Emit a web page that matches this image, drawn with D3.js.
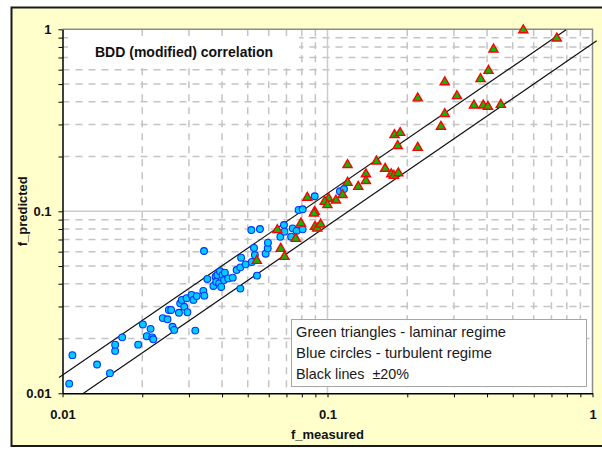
<!DOCTYPE html>
<html>
<head>
<meta charset="utf-8">
<script src="https://cdn.jsdelivr.net/npm/d3@7"></script>
<style>
  body { margin: 0; background: #ffffff; }
  text { font-family: "Liberation Sans", Arial, sans-serif; }
</style>
</head>
<body>
<script>
// laminar regime (green triangles)
const laminarMeasured = [0.548, 0.733, 0.423, 0.405, 0.378, 0.277, 0.308, 0.219, 0.357, 0.387,
  0.403, 0.451, 0.277, 0.268, 0.179, 0.188, 0.184, 0.219, 0.153, 0.119,
  0.165, 0.1396, 0.174, 0.178, 0.185, 0.1396, 0.119, 0.1306, 0.114, 0.1076,
  0.101, 0.0976, 0.0999, 0.0895, 0.0889, 0.0839, 0.0794, 0.0897, 0.0915, 0.0942,
  0.0647, 0.0759, 0.0666, 0.0688, 0.0541];
const laminarPredicted = [0.99, 0.892, 0.776, 0.592, 0.533, 0.513, 0.430, 0.418, 0.382, 0.382,
  0.376, 0.385, 0.343, 0.292, 0.263, 0.270, 0.229, 0.2236, 0.188, 0.180,
  0.1715, 0.160, 0.160, 0.157, 0.162, 0.147, 0.1436, 0.1365, 0.123, 0.1149,
  0.1173, 0.1129, 0.1083, 0.0995, 0.0975, 0.1188, 0.0859, 0.0823, 0.0806, 0.0848,
  0.0789, 0.0707, 0.0623, 0.0563, 0.0535];

// turbulent regime (blue circles)
const turbulentMeasured = [0.0106, 0.0109, 0.0135, 0.0151, 0.0158, 0.0158, 0.0168, 0.0193, 0.0201, 0.0208,
  0.0215, 0.0218, 0.0220, 0.0239, 0.0249, 0.0252, 0.0257, 0.0260, 0.0264, 0.0275,
  0.0278, 0.0282, 0.0288, 0.0294, 0.0296, 0.0307, 0.0312, 0.0321, 0.0317, 0.0340,
  0.0343, 0.0342, 0.0352, 0.0371, 0.0378, 0.0380, 0.0384, 0.0390, 0.0393, 0.0397,
  0.0402, 0.0407, 0.0410, 0.0422, 0.0439, 0.0454, 0.0469, 0.0469, 0.0472, 0.0491,
  0.0518, 0.0516, 0.0528, 0.0532, 0.0542, 0.0556, 0.0584, 0.0595, 0.0596, 0.0664,
  0.0685, 0.0688, 0.0729, 0.0739, 0.0765, 0.0806, 0.0778, 0.0806, 0.0895, 0.1114, 0.1154];
const turbulentPredicted = [0.0113, 0.0162, 0.0144, 0.0129, 0.0171, 0.0185, 0.0203, 0.0185, 0.0239, 0.0206,
  0.0226, 0.0203, 0.0198, 0.0259, 0.0255, 0.0287, 0.0287, 0.0232, 0.0223, 0.0277,
  0.0312, 0.0326, 0.0299, 0.0333, 0.0279, 0.0347, 0.0326, 0.0342, 0.0221, 0.0365,
  0.0344, 0.0605, 0.0425, 0.0389, 0.0437, 0.0410, 0.0447, 0.0402, 0.0468, 0.0384,
  0.0447, 0.0419, 0.0460, 0.0428, 0.0432, 0.0476, 0.0492, 0.0376, 0.0556, 0.0511,
  0.0527, 0.0789, 0.0629, 0.0575, 0.0443, 0.0799, 0.0585, 0.0626, 0.0672, 0.0725,
  0.0841, 0.0773, 0.0725, 0.0806, 0.0782, 0.0796, 0.1017, 0.1026, 0.121, 0.1288, 0.1326];

// +/-20% band lines (end points)
const upperLineX = [0.0097, 0.795];
const upperLineY = [0.0122, 0.993];
const lowerLineX = [0.012, 1.037];
const lowerLineY = [0.01, 0.865];

const majorTicks = [0.01, 0.1, 1];
const minorTicks = [0.02, 0.03, 0.04, 0.05, 0.06, 0.07, 0.08, 0.09,
  0.2, 0.3, 0.4, 0.5, 0.6, 0.7, 0.8, 0.9];
const tickLabels = ['0.01', '0.1', '1'];

const chartTitle = 'BDD (modified) correlation';
const xTitle = 'f_measured';
const yTitle = 'f_predicted';
const legendLines = ['Green triangles - laminar regime', 'Blue circles - turbulent regime', 'Black lines  \u00B120%'];

const width = 602;
const height = 450;
var svg = d3.select('body').append('svg')
    .attr('width', width).attr('height', height);

// outer chart area
svg.append('rect')
    .attr('x', 11.5).attr('y', 7.5)
    .attr('width', 600).attr('height', 438.5)
    .attr('fill', '#ffffcc')
    .attr('stroke', '#1a1a1a').attr('stroke-width', 2);

const plot = {left: 62.5, right: 592.5, top: 29.3, bottom: 393.3};

let x = d3.scaleLog().domain([0.01, 1]).range([plot.left, plot.right]);
let y = d3.scaleLog().domain([0.01, 1]).range([plot.bottom, plot.top]);

svg.append('rect')
    .attr('x', plot.left).attr('y', plot.top)
    .attr('width', plot.right - plot.left).attr('height', plot.bottom - plot.top)
    .attr('fill', '#ffffff');

///////////////////////
// Grid
let grid = svg.append('g').attr('class', 'grid');
grid.selectAll('.vminor').data(minorTicks).enter().append('line')
    .attr('x1', d => x(d)).attr('x2', d => x(d))
    .attr('y1', plot.top).attr('y2', plot.bottom)
    .attr('stroke', '#c4c4c4').attr('stroke-width', 1.5)
    .attr('stroke-dasharray', '7,6');
grid.selectAll('.hminor').data(minorTicks).enter().append('line')
    .attr('x1', plot.left).attr('x2', plot.right)
    .attr('y1', d => y(d)).attr('y2', d => y(d))
    .attr('stroke', '#c4c4c4').attr('stroke-width', 1.5)
    .attr('stroke-dasharray', '7,6');
grid.append('line')
    .attr('x1', x(0.1)).attr('x2', x(0.1))
    .attr('y1', plot.top).attr('y2', plot.bottom)
    .attr('stroke', '#cccccc').attr('stroke-width', 1.5);
grid.append('line')
    .attr('x1', plot.left).attr('x2', plot.right)
    .attr('y1', y(0.1)).attr('y2', y(0.1))
    .attr('stroke', '#cccccc').attr('stroke-width', 1.5);

// top / right border of plot area
svg.append('path')
    .attr('d', `M${plot.left},${plot.top}H${plot.right}V${plot.bottom}`)
    .attr('fill', 'none').attr('stroke', '#8c8c8c').attr('stroke-width', 1.5);

// title box
svg.append('rect')
    .attr('x', 68).attr('y', 36).attr('width', 231).attr('height', 30)
    .attr('fill', '#ffffff');
svg.append('text')
    .attr('x', 95).attr('y', 56.5)
    .attr('font-size', 14).attr('font-weight', 'bold')
    .attr('fill', '#111')
    .text(chartTitle);

///////////////////////
// Axis
let allTicks = majorTicks.concat(minorTicks);
let fmt = d => { let i = majorTicks.indexOf(d); return i >= 0 ? tickLabels[i] : ''; };

let xAxis = d3.axisBottom(x).tickValues(allTicks).tickFormat(fmt)
    .tickSizeInner(4).tickSizeOuter(0).tickPadding(12);
let yAxis = d3.axisLeft(y).tickValues(allTicks).tickFormat(fmt)
    .tickSizeInner(4).tickSizeOuter(0).tickPadding(7);

let gx = svg.append('g')
    .attr('transform', 'translate(0,' + plot.bottom + ')')
    .call(xAxis);
let gy = svg.append('g')
    .attr('transform', 'translate(' + plot.left + ',0)')
    .call(yAxis);

[gx, gy].forEach(g => {
    g.select('.domain').attr('stroke', '#000').attr('stroke-width', 1.5);
    g.selectAll('.tick line').attr('stroke', '#000').attr('stroke-width', 1);
    g.selectAll('.tick text')
        .attr('font-family', '"Liberation Sans", Arial, sans-serif')
        .attr('font-size', 13).attr('font-weight', 'bold').attr('fill', '#111');
});

svg.append('text')
    .attr('x', x(0.1)).attr('y', 438.5)
    .attr('text-anchor', 'middle')
    .attr('font-size', 13).attr('font-weight', 'bold').attr('fill', '#111')
    .text(xTitle);
svg.append('text')
    .attr('transform', 'translate(27,' + y(0.1) + ') rotate(-90)')
    .attr('text-anchor', 'middle')
    .attr('font-size', 13).attr('font-weight', 'bold').attr('fill', '#111')
    .text(yTitle);

///////////////////////
// +/-20% lines
let line = d3.line().x(d => x(d[0])).y(d => y(d[1]));
[[upperLineX, upperLineY], [lowerLineX, lowerLineY]].forEach(p => {
    svg.append('path')
        .attr('d', line(d3.zip(p[0], p[1])))
        .attr('fill', 'none').attr('stroke', '#111').attr('stroke-width', 1.2);
});

///////////////////////
// markers
let turbulent = d3.zip(turbulentMeasured, turbulentPredicted);
svg.selectAll('circle.turb').data(turbulent).enter().append('circle')
    .attr('class', 'turb')
    .attr('cx', d => x(d[0]))
    .attr('cy', d => y(d[1]))
    .attr('r', 3.4)
    .attr('fill', '#00ccff')
    .attr('stroke', '#0033ff').attr('stroke-width', 1.1);

let laminar = d3.zip(laminarMeasured, laminarPredicted);
let tri = d3.symbol().type(d3.symbolTriangle).size(36);
svg.selectAll('path.lam').data(laminar).enter().append('path')
    .attr('class', 'lam')
    .attr('d', tri)
    .attr('transform', d => 'translate(' + x(d[0]) + ',' + y(d[1]) + ')')
    .attr('fill', '#00c000')
    .attr('stroke', '#ff0000').attr('stroke-width', 1.4);

///////////////////////
// legend box
let legend = svg.append('g');
legend.append('rect')
    .attr('x', 291.5).attr('y', 319.5).attr('width', 295).attr('height', 67)
    .attr('fill', '#ffffff').attr('stroke', '#a6a6a6').attr('stroke-width', 1);
let legendWidths = [210, 196, 113];
legend.selectAll('text').data(legendLines).enter().append('text')
    .attr('x', 296)
    .attr('y', (d, i) => 337 + i * 21)
    .attr('font-family', 'Lato, "Open Sans", sans-serif')
    .attr('font-size', 14.5)
    .attr('fill', '#1a1a1a')
    .attr('textLength', (d, i) => legendWidths[i])
    .attr('lengthAdjust', 'spacingAndGlyphs')
    .style('white-space', 'pre')
    .text(d => d);
</script>
</body>
</html>
